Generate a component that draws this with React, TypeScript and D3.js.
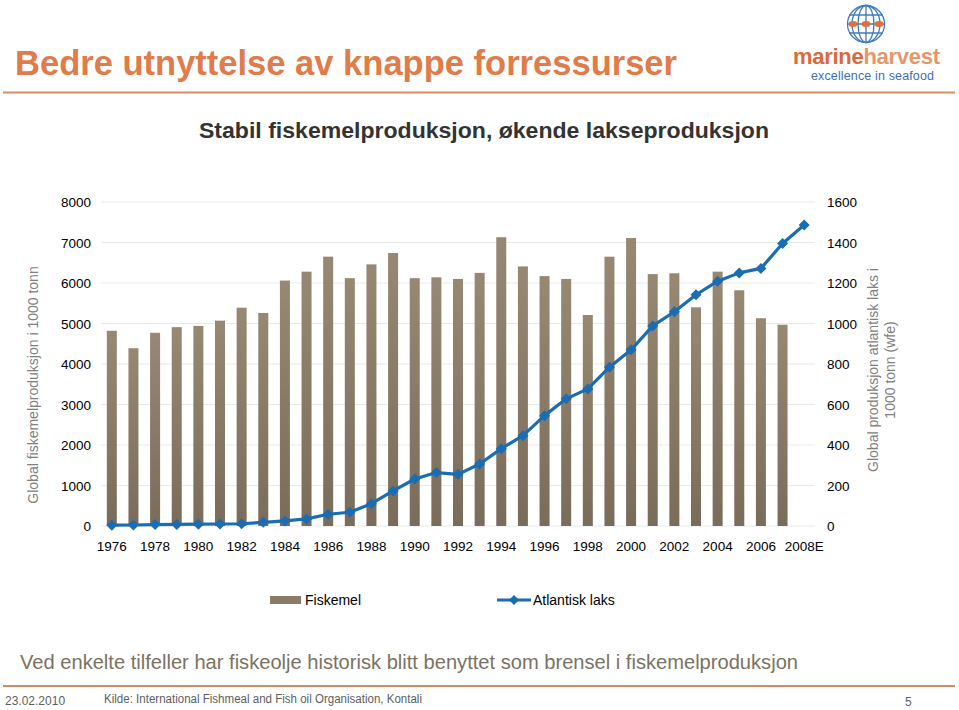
import React from "react";
import * as d3 from "d3";

const years = d3.range(1976, 2009).map((y) => (y === 2008 ? "2008E" : String(y)));
const fiskemel: (number | null)[] = [
  4820, 4390, 4770, 4910, 4940, 5070, 5390, 5260, 6060, 6280, 6650, 6120, 6460, 6740,
  6120, 6140, 6100, 6250, 7130, 6410, 6170, 6100, 5210, 6650, 7110, 6220, 6240, 5400,
  6280, 5820, 5130, 4970, null,
];
const laks = [
  4, 5, 7, 8, 9, 10, 11, 18, 25, 35, 58, 68, 110, 173, 232, 264, 255, 306, 382, 446, 545,
  628, 677, 784, 870, 988, 1058, 1142, 1209, 1250, 1272, 1395, 1486,
];
const leftTicks = [0, 1000, 2000, 3000, 4000, 5000, 6000, 7000, 8000];
const rightTicks = [0, 200, 400, 600, 800, 1000, 1200, 1400, 1600];
const xLabels = years.filter((_, i) => i % 2 === 0);

const FONT = "'Liberation Sans', Arial, sans-serif";

export default function App() {
  const left = 101;
  const right = 815;
  const top = 202;
  const bottom = 526;
  const x = d3.scaleBand<string>().domain(years).range([left, right]);
  const yL = d3.scaleLinear().domain([0, 8000]).range([bottom, top]);
  const yR = d3.scaleLinear().domain([0, 1600]).range([bottom, top]);
  const bw = 10;
  const cx = (c: string) => (x(c) as number) + x.bandwidth() / 2;
  const line = d3
    .line<number>()
    .x((_, i) => cx(years[i]))
    .y((d) => yR(d));
  const diamond = (px: number, py: number, s = 5.5) =>
    `M${px},${py - s}L${px + s},${py}L${px},${py + s}L${px - s},${py}Z`;

  return (
    <svg
      width={959}
      height={710}
      style={{ position: "fixed", left: 0, top: 0, background: "#fff" }}
      fontFamily={FONT}
    >
      <defs>
        <linearGradient id="barg" x1="0" y1="0" x2="0" y2="1">
          <stop offset="0" stopColor="#978873" />
          <stop offset="1" stopColor="#7a6c5a" />
        </linearGradient>
      </defs>
      {/* Header */}
      <text x={15} y={75} fontSize={35} fontWeight="bold" fill="#e07b4a" textLength={662} lengthAdjust="spacingAndGlyphs">
        Bedre utnyttelse av knappe forressurser
      </text>
      <line x1={3} x2={955} y1={92.5} y2={92.5} stroke="#d98b63" strokeWidth={2} />
      {/* Logo */}
      <g stroke="#3f7cbc" strokeWidth={1.3} fill="none">
        <circle cx={866} cy={24} r={18.5} />
        <ellipse cx={866} cy={24} rx={8} ry={18.5} />
        <ellipse cx={866} cy={24} rx={14} ry={18.5} />
        <line x1={866} x2={866} y1={5.5} y2={42.5} />
        <line x1={849} x2={883} y1={15} y2={15} />
        <line x1={849} x2={883} y1={33} y2={33} />
        <line x1={847.5} x2={884.5} y1={24} y2={24} />
      </g>
      <g fill="#e0703e">
        {[853, 866, 879].map((fx) => (
          <ellipse key={fx} cx={fx} cy={24} rx={4.5} ry={3} />
        ))}
      </g>
      <text x={793} y={64} fontSize={22} fontWeight="bold" fill="#d96a3b" textLength={147}>
        marine<tspan fill="#e6976a">harvest</tspan>
      </text>
      <text x={811} y={80} fontSize={12.5} fill="#3f6fb3" textLength={123}>
        excellence in seafood
      </text>
      {/* Subtitle */}
      <text x={199} y={138} fontSize={22} fontWeight="bold" fill="#333" textLength={570} lengthAdjust="spacingAndGlyphs">
        Stabil fiskemelproduksjon, økende lakseproduksjon
      </text>
      {/* Grid */}
      {leftTicks.map((t) => (
        <line key={t} x1={left} x2={right} y1={yL(t)} y2={yL(t)} stroke="#e9e9e9" strokeWidth={1} />
      ))}
      {/* Bars */}
      {fiskemel.map((v, i) =>
        v == null ? null : (
          <rect
            key={i}
            x={cx(years[i]) - bw / 2}
            y={yL(v)}
            width={bw}
            height={bottom - yL(v)}
            fill="url(#barg)"
          />
        )
      )}
      {/* Line */}
      <path d={line(laks) || ""} fill="none" stroke="#1a6db3" strokeWidth={3.2} strokeLinejoin="round" />
      {laks.map((v, i) => (
        <path key={i} d={diamond(cx(years[i]), yR(v))} fill="#1a6db3" />
      ))}
      {/* Axes */}
      {leftTicks.map((t) => (
        <text key={t} x={91} y={yL(t) + 5} fontSize={13.5} textAnchor="end" fill="#000">
          {t}
        </text>
      ))}
      {rightTicks.map((t) => (
        <text key={t} x={827} y={yR(t) + 5} fontSize={13.5} fill="#000">
          {t}
        </text>
      ))}
      {xLabels.map((l) => (
        <text key={l} x={cx(l)} y={551} fontSize={13.5} textAnchor="middle" fill="#000">
          {l}
        </text>
      ))}
      <text
        transform="translate(38,385) rotate(-90)"
        fontSize={14}
        fill="#808080"
        textAnchor="middle"
      >
        Global fiskemelproduksjon i 1000 tonn
      </text>
      <text transform="translate(878,370) rotate(-90)" fontSize={14} fill="#808080" textAnchor="middle">
        Global produksjon atlantisk laks i
      </text>
      <text transform="translate(895,370) rotate(-90)" fontSize={14} fill="#808080" textAnchor="middle">
        1000 tonn (wfe)
      </text>
      {/* Legend */}
      <rect x={270} y={596} width={31} height={8} fill="#8a7c68" />
      <text x={305} y={605} fontSize={14} fill="#000">
        Fiskemel
      </text>
      <line x1={497} x2={531} y1={600} y2={600} stroke="#1a6db3" strokeWidth={3.2} />
      <path d={diamond(514, 600, 5)} fill="#1a6db3" />
      <text x={533} y={605} fontSize={14} fill="#000">
        Atlantisk laks
      </text>
      {/* Footer */}
      <text x={20} y={669} fontSize={20} fill="#7b7262" textLength={778} lengthAdjust="spacingAndGlyphs">
        Ved enkelte tilfeller har fiskeolje historisk blitt benyttet som brensel i fiskemelproduksjon
      </text>
      <line x1={3} x2={955} y1={686} y2={686} stroke="#cf8a66" strokeWidth={2} />
      <text x={5} y={705} fontSize={12} fill="#606060">
        23.02.2010
      </text>
      <text x={104} y={703} fontSize={12} fill="#606060" textLength={318} lengthAdjust="spacingAndGlyphs">
        Kilde: International Fishmeal and Fish oil Organisation, Kontali
      </text>
      <text x={905} y={706} fontSize={12} fill="#606060">
        5
      </text>
    </svg>
  );
}
